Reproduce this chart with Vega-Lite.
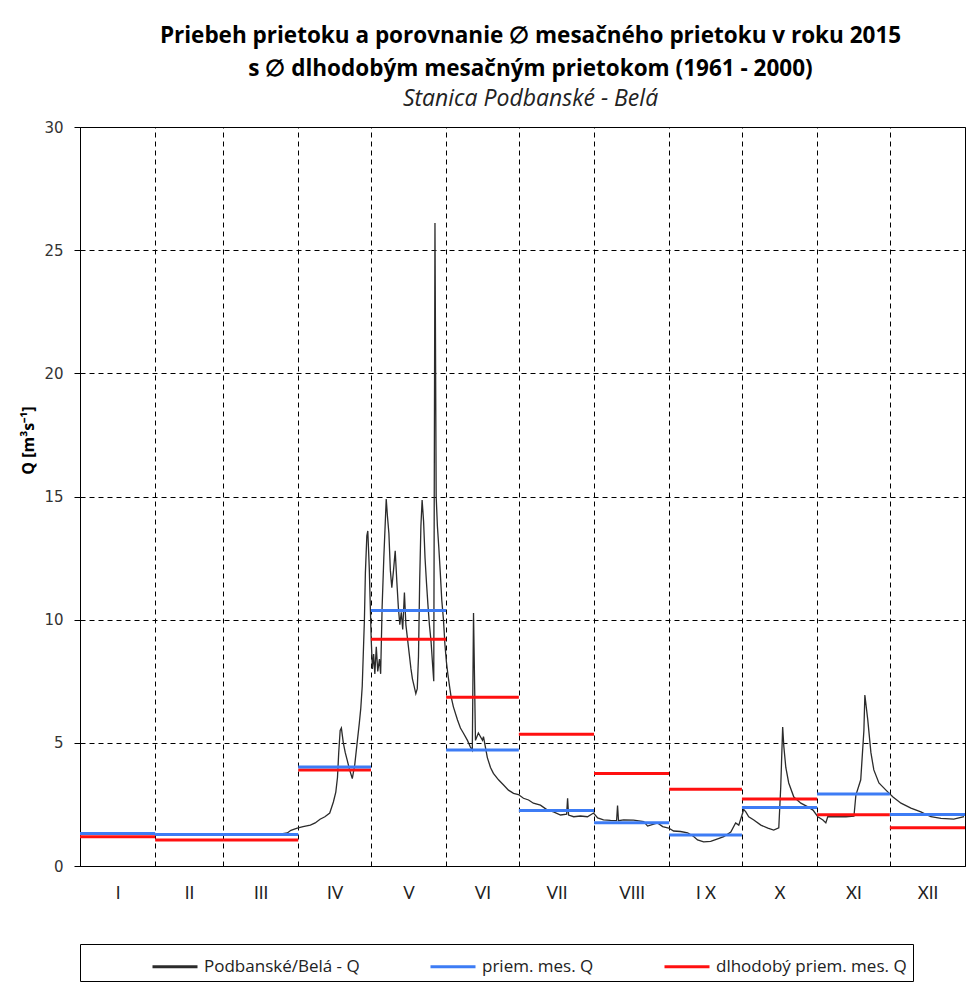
{
  "$schema": "https://vega.github.io/schema/vega-lite/v6.json",
  "width": 885,
  "height": 739,
  "autosize": {"type": "none"},
  "padding": {"left": 80, "top": 127, "right": 7, "bottom": 120},
  "background": "white",
  "title": {
    "text": ["Priebeh prietoku a porovnanie ∅ mesačného prietoku v roku 2015", "s ∅ dlhodobým mesačným prietokom (1961 - 2000)"],
    "subtitle": "Stanica Podbanské - Belá",
    "font": "Open Sans",
    "fontSize": 22.5,
    "fontWeight": "bold",
    "lineHeight": 33,
    "color": "black",
    "subtitleFont": "Open Sans",
    "subtitleFontSize": 23,
    "subtitleFontStyle": "italic",
    "subtitleColor": "#222222",
    "subtitlePadding": 8,
    "anchor": "middle",
    "offset": 9,
    "dx": 8
  },
  "config": {
    "view": {"stroke": "black", "strokeWidth": 1}
  },
  "datasets": {
    "daily": [
      {"d": 83, "q": 1.3}, {"d": 85.5, "q": 1.34}, {"d": 87, "q": 1.45}, {"d": 89.6, "q": 1.54}, {"d": 92, "q": 1.6},
      {"d": 95, "q": 1.66}, {"d": 97, "q": 1.75}, {"d": 99, "q": 1.9}, {"d": 101, "q": 2.0}, {"d": 103, "q": 2.15},
      {"d": 104.5, "q": 2.6}, {"d": 105.5, "q": 3.0}, {"d": 106.2, "q": 3.6}, {"d": 106.7, "q": 4.6}, {"d": 107.3, "q": 5.5},
      {"d": 107.8, "q": 5.6}, {"d": 108.6, "q": 5.0}, {"d": 109.4, "q": 4.6}, {"d": 110.2, "q": 4.3}, {"d": 111.2, "q": 3.9},
      {"d": 112.3, "q": 3.55}, {"d": 113.3, "q": 4.1}, {"d": 114.3, "q": 5.0}, {"d": 115.2, "q": 5.8}, {"d": 115.8, "q": 6.4},
      {"d": 116.4, "q": 7.3}, {"d": 117.3, "q": 10.0}, {"d": 117.7, "q": 11.9}, {"d": 118.3, "q": 13.4}, {"d": 118.7, "q": 13.6},
      {"d": 119.3, "q": 12.1}, {"d": 120.1, "q": 9.2}, {"d": 120.6, "q": 8.0}, {"d": 121.1, "q": 8.6}, {"d": 121.6, "q": 7.8},
      {"d": 122.2, "q": 8.9}, {"d": 122.8, "q": 7.9}, {"d": 123.5, "q": 8.4}, {"d": 124.0, "q": 7.8}, {"d": 124.6, "q": 10.5},
      {"d": 125.3, "q": 12.5}, {"d": 126.3, "q": 14.9}, {"d": 126.8, "q": 14.2}, {"d": 127.4, "q": 13.5}, {"d": 128.0, "q": 12.0},
      {"d": 128.6, "q": 11.3}, {"d": 129.3, "q": 12.0}, {"d": 130.0, "q": 12.8}, {"d": 130.7, "q": 11.5}, {"d": 131.3, "q": 10.5},
      {"d": 131.9, "q": 9.8}, {"d": 132.5, "q": 10.3}, {"d": 133.1, "q": 9.6}, {"d": 133.8, "q": 11.1}, {"d": 134.4, "q": 9.8},
      {"d": 135.1, "q": 9.2}, {"d": 135.8, "q": 8.6}, {"d": 136.5, "q": 8.0}, {"d": 137.1, "q": 7.6}, {"d": 137.8, "q": 7.3},
      {"d": 138.5, "q": 7.0}, {"d": 139.1, "q": 7.2}, {"d": 139.6, "q": 8.5}, {"d": 140.1, "q": 11.6}, {"d": 140.6, "q": 13.8},
      {"d": 141.1, "q": 14.86}, {"d": 141.7, "q": 14.0}, {"d": 142.3, "q": 12.5}, {"d": 142.9, "q": 11.5}, {"d": 143.5, "q": 10.6},
      {"d": 144.1, "q": 9.8}, {"d": 144.8, "q": 9.1}, {"d": 145.4, "q": 8.2}, {"d": 145.9, "q": 7.5}, {"d": 146.4, "q": 26.1},
      {"d": 146.9, "q": 15.0}, {"d": 147.4, "q": 13.8}, {"d": 148.0, "q": 12.9}, {"d": 148.6, "q": 11.9}, {"d": 149.2, "q": 10.8},
      {"d": 149.9, "q": 10.0}, {"d": 150.5, "q": 9.0}, {"d": 151.1, "q": 8.3}, {"d": 151.7, "q": 7.8}, {"d": 152.4, "q": 7.3},
      {"d": 153.0, "q": 6.9}, {"d": 154.0, "q": 6.46}, {"d": 155.7, "q": 5.93}, {"d": 156.9, "q": 5.6}, {"d": 158.1, "q": 5.4},
      {"d": 159.8, "q": 5.1}, {"d": 161.0, "q": 4.83}, {"d": 161.8, "q": 4.7}, {"d": 162.3, "q": 10.27}, {"d": 163.1, "q": 5.1},
      {"d": 164.3, "q": 5.4}, {"d": 166.0, "q": 5.1}, {"d": 166.4, "q": 5.25}, {"d": 168.0, "q": 4.4}, {"d": 169.3, "q": 4.0},
      {"d": 170.5, "q": 3.76}, {"d": 172.6, "q": 3.5}, {"d": 174.6, "q": 3.3}, {"d": 176.7, "q": 3.08}, {"d": 178.8, "q": 2.95},
      {"d": 180.8, "q": 2.9}, {"d": 182.9, "q": 2.75}, {"d": 185.0, "q": 2.68}, {"d": 187.0, "q": 2.55}, {"d": 189.9, "q": 2.47},
      {"d": 192.8, "q": 2.27}, {"d": 195.3, "q": 2.2}, {"d": 198.2, "q": 2.07}, {"d": 200.7, "q": 2.1}, {"d": 201.1, "q": 2.75},
      {"d": 201.5, "q": 2.07}, {"d": 203.6, "q": 2.0}, {"d": 206.4, "q": 2.03}, {"d": 209.3, "q": 2.0}, {"d": 211.8, "q": 2.15},
      {"d": 213.5, "q": 1.95}, {"d": 215.9, "q": 1.87}, {"d": 218.8, "q": 1.85}, {"d": 221.3, "q": 1.84}, {"d": 221.7, "q": 2.45},
      {"d": 222.1, "q": 1.84}, {"d": 224.2, "q": 1.87}, {"d": 228.3, "q": 1.86}, {"d": 232.5, "q": 1.8}, {"d": 234.1, "q": 1.62},
      {"d": 236.6, "q": 1.7}, {"d": 238.2, "q": 1.75}, {"d": 240.3, "q": 1.6}, {"d": 242.8, "q": 1.54}, {"d": 244.8, "q": 1.42},
      {"d": 247.7, "q": 1.4}, {"d": 250.6, "q": 1.35}, {"d": 253.1, "q": 1.2}, {"d": 254.7, "q": 1.06}, {"d": 257.2, "q": 0.98},
      {"d": 260.1, "q": 1.0}, {"d": 263.0, "q": 1.1}, {"d": 265.5, "q": 1.19}, {"d": 268.4, "q": 1.38}, {"d": 270.4, "q": 1.75},
      {"d": 271.7, "q": 1.66}, {"d": 273.3, "q": 2.15}, {"d": 273.7, "q": 2.3}, {"d": 274.6, "q": 2.2}, {"d": 275.8, "q": 2.0},
      {"d": 277.9, "q": 1.87}, {"d": 280.8, "q": 1.66}, {"d": 283.7, "q": 1.54}, {"d": 286.1, "q": 1.46}, {"d": 288.2, "q": 1.55},
      {"d": 289.0, "q": 3.2}, {"d": 289.8, "q": 5.64}, {"d": 290.3, "q": 4.83}, {"d": 291.1, "q": 4.0}, {"d": 292.3, "q": 3.37},
      {"d": 294.4, "q": 2.8}, {"d": 297.3, "q": 2.55}, {"d": 300.2, "q": 2.4}, {"d": 302.3, "q": 2.27}, {"d": 304.3, "q": 2.0},
      {"d": 306.4, "q": 1.87}, {"d": 307.6, "q": 1.75}, {"d": 308.4, "q": 2.0}, {"d": 310.9, "q": 2.0}, {"d": 315.9, "q": 2.0},
      {"d": 319.2, "q": 2.02}, {"d": 320.0, "q": 2.88}, {"d": 322.0, "q": 3.5}, {"d": 323.3, "q": 5.5}, {"d": 323.7, "q": 6.94},
      {"d": 324.9, "q": 5.93}, {"d": 326.2, "q": 4.6}, {"d": 327.4, "q": 3.9}, {"d": 329.5, "q": 3.37}, {"d": 332.4, "q": 3.08},
      {"d": 335.3, "q": 2.8}, {"d": 338.6, "q": 2.55}, {"d": 342.7, "q": 2.35}, {"d": 346.8, "q": 2.2}, {"d": 350.9, "q": 2.0},
      {"d": 355.1, "q": 1.93}, {"d": 360.4, "q": 1.9}, {"d": 364.6, "q": 2.0}
    ],
    "monthly": [
      {"m": "I", "s": 0, "e": 31, "avg": 1.32, "lt": 1.19},
      {"m": "II", "s": 31, "e": 59, "avg": 1.28, "lt": 1.06},
      {"m": "III", "s": 59, "e": 90, "avg": 1.28, "lt": 1.06},
      {"m": "IV", "s": 90, "e": 120, "avg": 4.02, "lt": 3.9},
      {"m": "V", "s": 120, "e": 151, "avg": 10.37, "lt": 9.2},
      {"m": "VI", "s": 151, "e": 181, "avg": 4.71, "lt": 6.85},
      {"m": "VII", "s": 181, "e": 212, "avg": 2.25, "lt": 5.35},
      {"m": "VIII", "s": 212, "e": 243, "avg": 1.76, "lt": 3.76},
      {"m": "IX", "s": 243, "e": 273, "avg": 1.26, "lt": 3.12},
      {"m": "X", "s": 273, "e": 304, "avg": 2.37, "lt": 2.72},
      {"m": "XI", "s": 304, "e": 334, "avg": 2.92, "lt": 2.08},
      {"m": "XII", "s": 334, "e": 365, "avg": 2.09, "lt": 1.55}
    ]
  },
  "layer": [
    {
      "data": {"name": "daily"},
      "mark": {"type": "line", "strokeWidth": 1.3},
      "encoding": {
        "x": {
          "field": "d", "type": "quantitative",
          "scale": {"domain": [0, 365], "nice": false, "zero": false},
          "axis": {
            "orient": "bottom",
            "values": [15.5, 45, 74.5, 105, 135.5, 166, 196.5, 227.5, 258, 288.5, 319, 349.5],
            "labelExpr": "['I','II','III','IV','V','VI','VII','VIII','I X','X','XI','XII'][floor(datum.value/30.42)]",
            "grid": false, "ticks": false, "domain": true, "domainColor": "black",
            "title": null,
            "labelFont": "Lato", "labelFontSize": 17, "labelColor": "#222222", "labelPadding": 19
          }
        },
        "y": {
          "field": "q", "type": "quantitative",
          "scale": {"domain": [0, 30], "nice": false},
          "axis": {
            "values": [0, 5, 10, 15, 20, 25, 30],
            "grid": true, "gridDash": [5, 4], "gridColor": "black", "gridWidth": 1, "gridOpacity": 1,
            "domainColor": "black", "tickColor": "black", "tickSize": 6,
            "labelFont": "DejaVu Sans", "labelFontSize": 15, "labelColor": "#333333", "labelPadding": 11,
            "title": "Q [m³s⁻¹]",
            "titleFont": "Open Sans", "titleFontSize": 16, "titleFontWeight": "bold", "titleColor": "black",
            "titleX": -52, "titleY": 313, "titleBaseline": "middle", "titleAngle": -90, "titleAlign": "center"
          }
        },
        "color": {
          "datum": "Podbanské/Belá - Q", "type": "nominal",
          "scale": {
            "domain": ["Podbanské/Belá - Q", "priem. mes. Q", "dlhodobý priem. mes. Q"],
            "range": ["#2b2b2b", "#3d7cf5", "#ff1010"]
          },
          "legend": {
            "orient": "none", "legendX": 0, "legendY": 817,
            "direction": "horizontal",
            "title": "\u00a0", "titleOrient": "left", "titlePadding": 65, "titleFontSize": 10,
            "symbolType": "M-1,0H2", "symbolSize": 900, "symbolStrokeWidth": 3,
            "labelFont": "Open Sans", "labelFontSize": 17, "labelColor": "#222222", "labelOffset": 20,
            "labelLimit": 500,
            "columnPadding": 64, "padding": 6,
            "strokeColor": "black", "fillColor": "white"
          }
        }
      }
    },
    {
      "data": {"name": "monthly"},
      "mark": {"type": "rule", "strokeWidth": 3},
      "encoding": {
        "x": {
          "field": "s", "type": "quantitative",
          "axis": {
            "orient": "top",
            "values": [31, 59, 90, 120, 151, 181, 212, 243, 273, 304, 334],
            "grid": true, "gridDash": [5, 4], "gridColor": "black", "gridWidth": 1, "gridOpacity": 1,
            "labels": false, "ticks": false, "domain": false, "title": null
          }
        },
        "x2": {"field": "e"},
        "y": {"field": "lt", "type": "quantitative"},
        "color": {"datum": "dlhodobý priem. mes. Q", "type": "nominal"}
      }
    },
    {
      "data": {"name": "monthly"},
      "mark": {"type": "rule", "strokeWidth": 3},
      "encoding": {
        "x": {"field": "s", "type": "quantitative", "axis": null},
        "x2": {"field": "e"},
        "y": {"field": "avg", "type": "quantitative"},
        "color": {"datum": "priem. mes. Q", "type": "nominal"}
      }
    }
  ]
}
